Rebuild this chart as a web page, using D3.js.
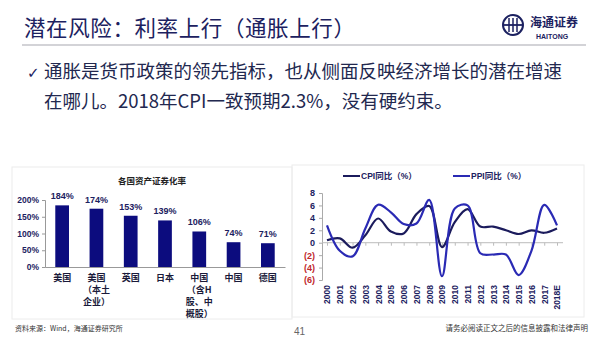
<!DOCTYPE html>
<html><head><meta charset="utf-8">
<script src="https://cdn.jsdelivr.net/npm/d3@7"></script>
<style>
body{margin:0;background:#fff;}
svg{display:block;}
</style></head>
<body>
<svg id="c" width="600" height="338"></svg>
<script>
// ---- data ----
const pageTitle = "潜在风险：利率上行（通胀上行）";
const bulletLines = ["通胀是货币政策的领先指标，也从侧面反映经济增长的潜在增速", "在哪儿。2018年CPI一致预期2.3%，没有硬约束。"];
const barTitle = "各国资产证券化率";
const barCategories = ["美国", "美国\n（本土\n企业）", "英国", "日本", "中国\n（含H\n股、中\n概股）", "中国", "德国"];
const barValues = [184, 174, 153, 139, 106, 74, 71];
const barTicks = [0, 50, 100, 150, 200];
const years = ["2000","2001","2002","2003","2004","2005","2006","2007","2008","2009","2010","2011","2012","2013","2014","2015","2016","2017","2018E"];
const cpi = [0.4, 0.7, -0.8, 1.2, 3.9, 1.8, 1.5, 4.6, 5.9, -0.7, 3.3, 5.4, 2.6, 2.6, 2.0, 1.4, 2.0, 1.6, 2.3];
const ppi = [2.8, -1.3, -2.2, 2.3, 6.1, 4.9, 3.0, 3.1, 6.9, -5.4, 5.5, 6.0, -1.7, -1.9, -1.9, -5.2, -1.3, 6.1, 2.8];
const lineTicks = [-6, -4, -2, 0, 2, 4, 6, 8];
const legendLabels = ["CPI同比（%）", "PPI同比（%）"];
const sourceText = "资料来源：Wind，海通证券研究所";
const pageNum = "41";
const footerText = "请务必阅读正文之后的信息披露和法律声明";

const svg = d3.select("#c");
const CJK = "'Noto Sans CJK SC','Noto Sans',sans-serif";
const LAT = "'Liberation Sans',Arial,'Noto Sans CJK SC',sans-serif";
const navy = "#1c2160";

// ---- header ----
svg.append("text").attr("x", 24).attr("y", 36).attr("font-family", CJK)
  .attr("font-size", 21.5).attr("letter-spacing", 0.6).attr("fill", navy).text(pageTitle);
svg.append("line").attr("x1", 22).attr("x2", 586).attr("y1", 45).attr("y2", 45)
  .attr("stroke", "#a8a8b0").attr("stroke-width", 1.2);

// logo
const logo = svg.append("g").attr("transform", "translate(513,25)");
logo.append("circle").attr("r", 10).attr("fill", "none").attr("stroke", navy).attr("stroke-width", 2);
logo.append("line").attr("x1", -10).attr("x2", 10).attr("y1", 0).attr("y2", 0).attr("stroke", navy).attr("stroke-width", 1.8);
[-4, 0, 4].forEach(dx => logo.append("line").attr("x1", dx).attr("x2", dx).attr("y1", -7).attr("y2", 7).attr("stroke", navy).attr("stroke-width", 1.5));
svg.append("text").attr("x", 530).attr("y", 27).attr("font-family", CJK).attr("font-size", 12)
  .attr("font-weight", "bold").attr("fill", navy).text("海通证券");
svg.append("text").attr("x", 536).attr("y", 39).attr("font-family", LAT).attr("font-size", 7)
  .attr("font-weight", "bold").attr("fill", navy).text("HAITONG");

// bullet
svg.append("text").attr("x", 27).attr("y", 78).attr("font-family", "'DejaVu Sans',sans-serif")
  .attr("font-size", 15).attr("fill", navy).text("✓");
bulletLines.forEach((t, i) => {
  svg.append("text").attr("x", 44).attr("y", 78 + i * 30).attr("font-family", CJK)
    .attr("font-size", 18.5).attr("fill", "#22284f").text(t);
});

// ---- left bar chart ----
svg.append("rect").attr("x", 12).attr("y", 167).attr("width", 280).attr("height", 152)
  .attr("fill", "none").attr("stroke", "#ececec");
svg.append("text").attr("x", 152).attr("y", 184).attr("text-anchor", "middle")
  .attr("font-family", CJK).attr("font-size", 8.5).attr("font-weight", "bold").attr("fill", "#222").text(barTitle);

const bx = d3.scaleBand().domain(d3.range(barCategories.length)).range([45, 285]).paddingInner(0.6).paddingOuter(0.3);
const by = d3.scaleLinear().domain([0, 200]).range([267, 200]);

const yAxL = svg.append("g").attr("transform", "translate(45,0)")
  .call(d3.axisLeft(by).tickValues(barTicks).tickFormat(d => d + "%").tickSize(3).tickPadding(3));
yAxL.selectAll("path,line").attr("stroke", "#999");
yAxL.selectAll("text").attr("font-family", LAT).attr("font-size", 8.5).attr("font-weight", "bold").attr("fill", navy);

svg.selectAll(".bar").data(barValues).enter().append("rect")
  .attr("x", (d, i) => bx(i)).attr("width", bx.bandwidth())
  .attr("y", d => by(d)).attr("height", d => by(0) - by(d)).attr("fill", "#0c0c7e");
svg.selectAll(".vl").data(barValues).enter().append("text")
  .attr("x", (d, i) => bx(i) + bx.bandwidth() / 2).attr("y", d => by(d) - 6)
  .attr("text-anchor", "middle").attr("font-family", LAT).attr("font-size", 9)
  .attr("font-weight", "bold").attr("fill", navy).text(d => d + "%");

const xAxL = svg.append("g").attr("transform", "translate(0,267)")
  .call(d3.axisBottom(bx).tickSize(0).tickFormat(""));
xAxL.select("path").attr("stroke", "#999");
barCategories.forEach((c, i) => {
  const t = svg.append("text").attr("text-anchor", "middle").attr("font-family", CJK)
    .attr("font-size", 9).attr("font-weight", "bold").attr("fill", "#1a1a3a");
  c.split("\n").forEach((ln, j) => {
    t.append("tspan").attr("x", bx(i) + bx.bandwidth() / 2).attr("y", 281 + j * 12).text(ln);
  });
});
svg.append("text").attr("x", 15).attr("y", 331).attr("font-family", CJK).attr("font-size", 7)
  .attr("fill", "#333").text(sourceText);

// ---- right line chart ----
svg.append("rect").attr("x", 292).attr("y", 165).attr("width", 292).attr("height", 152)
  .attr("fill", "none").attr("stroke", "#ececec");
const lx = d3.scalePoint().domain(years).range([327, 557]);
const ly = d3.scaleLinear().domain([-6, 8]).range([280, 193]);

const yAxR = svg.append("g").attr("transform", "translate(322,0)")
  .call(d3.axisLeft(ly).tickValues(lineTicks).tickSize(3).tickPadding(4)
    .tickFormat(d => d < 0 ? "(" + (-d) + ")" : d));
yAxR.selectAll("path,line").attr("stroke", "#aaa");
yAxR.selectAll("text").attr("font-family", LAT).attr("font-size", 9).attr("font-weight", "bold")
  .attr("fill", d => d < 0 ? "#c0282d" : navy);

const xAxR = svg.append("g").attr("transform", `translate(0,${ly(0)})`)
  .call(d3.axisBottom(lx).tickSize(3).tickFormat(""));
xAxR.select("path").attr("d", `M322,0H563`).attr("stroke", "#bbb");
xAxR.selectAll("line").attr("stroke", "#bbb");

const xLab = svg.append("g").attr("transform", "translate(0,285)")
  .call(d3.axisBottom(lx).tickSize(0).tickPadding(0));
xLab.select("path").remove();
xLab.selectAll("text").attr("transform", "rotate(-90)").attr("text-anchor", "end")
  .attr("x", 0).attr("y", 0).attr("dy", "0.35em")
  .attr("font-family", LAT).attr("font-size", 8.5).attr("font-weight", "bold").attr("fill", navy);

const line = d3.line().x((d, i) => lx(years[i])).y(d => ly(d)).curve(d3.curveCatmullRom.alpha(0.5));
svg.append("path").attr("d", line(cpi)).attr("fill", "none").attr("stroke", "#1b1b5c").attr("stroke-width", 2.2);
svg.append("path").attr("d", line(ppi)).attr("fill", "none").attr("stroke", "#2a2ab4").attr("stroke-width", 2.2);

// legend
const legendColors = ["#1b1b5c", "#2a2ab4"];
const legendX = [343, 453];
legendLabels.forEach((l, i) => {
  svg.append("line").attr("x1", legendX[i]).attr("x2", legendX[i] + 17).attr("y1", 176).attr("y2", 176)
    .attr("stroke", legendColors[i]).attr("stroke-width", 2);
  svg.append("text").attr("x", legendX[i] + 18).attr("y", 179).attr("font-family", LAT)
    .attr("font-size", 8.5).attr("font-weight", "bold").attr("fill", navy).text(l);
});

// footer
svg.append("text").attr("x", 294).attr("y", 335).attr("font-family", LAT).attr("font-size", 10)
  .attr("fill", "#666").text(pageNum);
svg.append("text").attr("x", 588).attr("y", 331).attr("text-anchor", "end").attr("font-family", CJK)
  .attr("font-size", 7.5).attr("fill", "#333").text(footerText);
</script>
</body></html>
